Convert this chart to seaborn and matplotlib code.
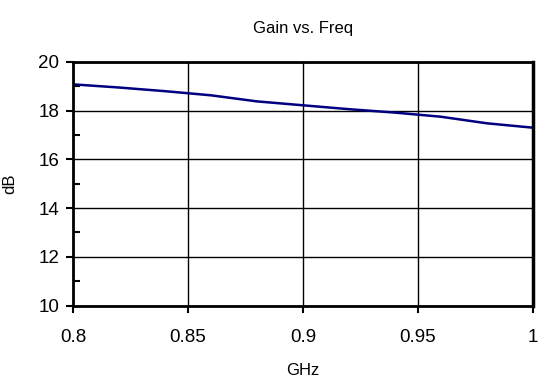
import matplotlib
matplotlib.use("Agg")
import matplotlib.pyplot as plt
from matplotlib.ticker import MultipleLocator
import seaborn as sns
import pandas as pd

freq_ghz = [0.80, 0.82, 0.84, 0.86, 0.88, 0.90, 0.92, 0.94, 0.96, 0.98, 1.00]
gain_db = [19.08, 18.95, 18.80, 18.63, 18.38, 18.22, 18.06, 17.92, 17.75, 17.48, 17.30]
x_ticks = [0.8, 0.85, 0.9, 0.95, 1.0]
x_tick_labels = ["0.8", "0.85", "0.9", "0.95", "1"]
y_ticks = [10, 12, 14, 16, 18, 20]

sns.set_theme(style="white")
plt.rcParams["font.family"] = ["Liberation Sans", "DejaVu Sans"]

df = pd.DataFrame({"GHz": freq_ghz, "dB": gain_db})

fig = plt.figure(figsize=(5.4, 3.83), dpi=100)
ax = fig.add_axes([0.135, 0.2023, 0.852, 0.636])

sns.lineplot(data=df, x="GHz", y="dB", ax=ax, color="#000080", linewidth=1.8)

ax.set_xlim(0.8, 1.0)
ax.set_ylim(10, 20)
ax.set_xticks(x_ticks)
ax.set_xticklabels(x_tick_labels)
ax.set_yticks(y_ticks)
ax.yaxis.set_minor_locator(MultipleLocator(1))

ax.grid(True, which="major", color="black", linewidth=1.0)
ax.set_axisbelow(True)

for side, spine in ax.spines.items():
    spine.set_visible(True)
    spine.set_color("black")
    spine.set_linewidth(2.0)
ax.spines["right"].set_linewidth(2.5)

ax.tick_params(axis="both", which="major", direction="out", length=5, width=1.5,
               color="black", labelsize=13.5, labelcolor="black",
               bottom=True, left=True)
ax.tick_params(axis="x", which="major", pad=12)
ax.tick_params(axis="y", which="major", pad=5)
ax.tick_params(axis="y", which="minor", direction="in", length=5, width=1.5,
               color="black", left=True)

ax.set_title("Gain vs. Freq", fontsize=12, color="black", pad=21)
ax.set_xlabel("GHz", fontsize=12, color="black", labelpad=12)
ax.set_ylabel("dB", fontsize=12, color="black", labelpad=15)

fig.savefig("out.png", dpi=100)
